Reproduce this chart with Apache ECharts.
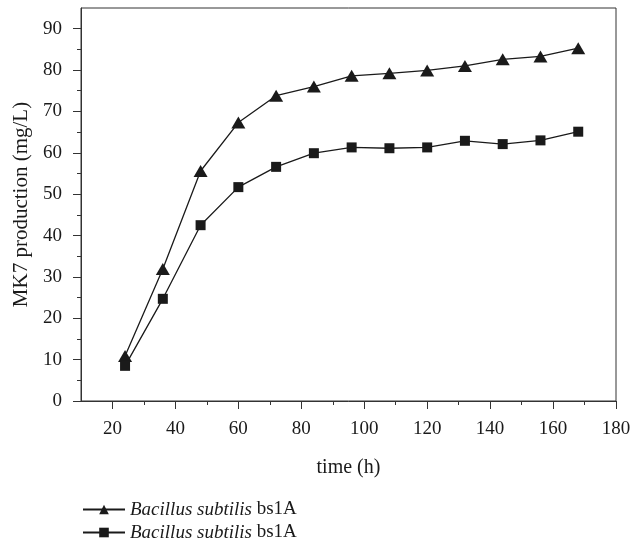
<!DOCTYPE html>
<html lang="en">
<head>
  <meta charset="utf-8" />
  <title>MK7 production</title>
  <script src="https://cdn.jsdelivr.net/npm/echarts@6/dist/echarts.min.js"></script>
  <style>
    html, body { margin: 0; padding: 0; background: #fff; }
    #main { width: 631px; height: 546px; }
  </style>
</head>
<body>
<div id="main"></div>
<script>
  // data
  let hours = [24, 36, 48, 60, 72, 84, 96, 108, 120, 132, 144, 156, 168]
  let triangleValues = [10.9, 31.9, 55.6, 67.3, 73.8, 76.0, 78.6, 79.2, 79.9, 81.0, 82.6, 83.3, 85.3]
  let squareValues = [8.5, 24.7, 42.5, 51.7, 56.6, 59.9, 61.3, 61.1, 61.3, 62.9, 62.1, 63.0, 65.1]
  let seriesNames = ['Bacillus subtilis bs1A', 'Bacillus subtilis bs1A\u200b']
  let xMajorTicks = [20, 40, 60, 80, 100, 120, 140, 160, 180]
  let xMinorTicks = [30, 50, 70, 90, 110, 130, 150, 170]
  let yMajorTicks = [0, 10, 20, 30, 40, 50, 60, 70, 80, 90]
  let yMinorTicks = [5, 15, 25, 35, 45, 55, 65, 75, 85]

  let fontSerif = '"Liberation Serif", "DejaVu Serif", serif'
  let ink = '#1a1a1a'
  let axisColor = '#333'

  let chart = echarts.init(document.getElementById('main'))

  function pairs(ys) {
    return hours.map((h, i) => [h, ys[i]])
  }

  let option = {
    animation: false,
    backgroundColor: '#fff',
    grid: {
      left: 81,
      right: 15,
      top: 8,
      bottom: 145,
      outerBoundsMode: 'none',
      show: true,
      borderColor: axisColor,
      borderWidth: 1,
    },
    legend: {
      orient: 'vertical',
      left: 82,
      bottom: 4,
      padding: 0,
      itemWidth: 42,
      itemHeight: 12,
      itemGap: 4,
      data: seriesNames,
      formatter: function (name) {
        return '{i|Bacillus subtilis}{r| bs1A}'
      },
      textStyle: {
        fontFamily: fontSerif,
        fontSize: 19,
        color: ink,
        rich: {
          i: { fontFamily: fontSerif, fontSize: 19, fontStyle: 'italic', color: ink },
          r: { fontFamily: fontSerif, fontSize: 19, color: ink },
        },
      },
    },
    xAxis: [
      {
        type: 'value',
        min: 10,
        max: 180,
        position: 'bottom',
        name: 'time (h)',
        nameLocation: 'middle',
        nameGap: 57,
        nameTextStyle: { fontFamily: fontSerif, fontSize: 20, color: ink },
        axisLine: { show: true, lineStyle: { color: axisColor, width: 1 } },
        axisTick: { show: true, length: 8, customValues: xMajorTicks, lineStyle: { color: axisColor } },
        axisLabel: { customValues: xMajorTicks, margin: 19, fontFamily: fontSerif, fontSize: 19, color: ink },
        splitLine: { show: false },
      },
      {
        type: 'value',
        min: 10,
        max: 180,
        position: 'bottom',
        axisLine: { show: false },
        axisTick: { show: true, length: 4, customValues: xMinorTicks, lineStyle: { color: axisColor } },
        axisLabel: { show: false },
        splitLine: { show: false },
      },
    ],
    yAxis: [
      {
        type: 'value',
        min: 0,
        max: 95,
        position: 'left',
        name: 'MK7 production (mg/L)',
        nameLocation: 'middle',
        nameGap: 43,
        nameTextStyle: { fontFamily: fontSerif, fontSize: 21, color: ink },
        axisLine: { show: true, lineStyle: { color: axisColor, width: 1 } },
        axisTick: { show: true, length: 8, customValues: yMajorTicks, lineStyle: { color: axisColor } },
        axisLabel: { customValues: yMajorTicks, margin: 19, fontFamily: fontSerif, fontSize: 19, color: ink },
        splitLine: { show: false },
      },
      {
        type: 'value',
        min: 0,
        max: 95,
        position: 'left',
        axisLine: { show: false },
        axisTick: { show: true, length: 4, customValues: yMinorTicks, lineStyle: { color: axisColor } },
        axisLabel: { show: false },
        splitLine: { show: false },
      },
    ],
    series: [
      {
        name: seriesNames[0],
        type: 'line',
        data: pairs(triangleValues),
        symbol: 'triangle',
        symbolSize: [14, 12],
        showAllSymbol: true,
        itemStyle: { color: ink },
        lineStyle: { color: ink, width: 1.3 },
      },
      {
        name: seriesNames[1],
        type: 'line',
        data: pairs(squareValues),
        symbol: 'rect',
        symbolSize: 10,
        showAllSymbol: true,
        itemStyle: { color: ink },
        lineStyle: { color: ink, width: 1.3 },
      },
    ],
  }

  chart.setOption(option)
</script>
</body>
</html>
